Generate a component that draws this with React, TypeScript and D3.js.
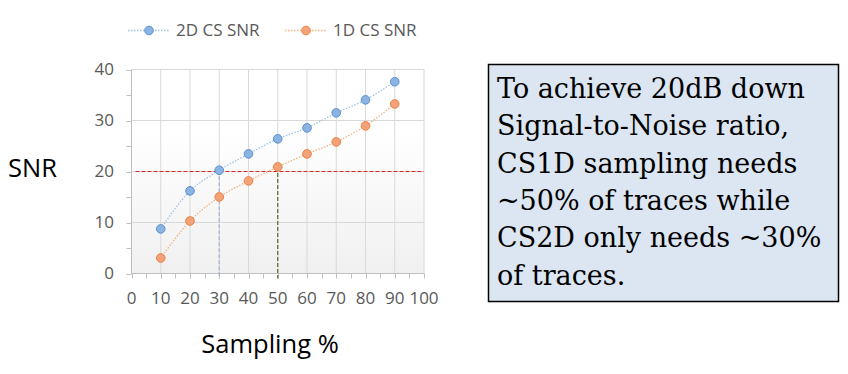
import React from "react";
import * as d3 from "d3";

const sampling = [10, 20, 30, 40, 50, 60, 70, 80, 90];
const snr2D = [8.75, 16.2, 20.25, 23.45, 26.4, 28.55, 31.5, 34.05, 37.6];
const snr1D = [3.05, 10.3, 15.0, 18.15, 20.9, 23.45, 25.8, 28.95, 33.25];
const xTicks = [0, 10, 20, 30, 40, 50, 60, 70, 80, 90, 100];
const yTicks = [0, 10, 20, 30, 40];
const seriesNames = ["2D CS SNR", "1D CS SNR"];
const threshold = 20;
const noteLines = [
  "To achieve 20dB down",
  "Signal-to-Noise ratio,",
  "CS1D sampling needs",
  "~50% of traces while",
  "CS2D only needs ~30%",
  "of traces.",
];

const W = 848;
const H = 374;
const plot = { left: 131.5, right: 424, top: 69.5, bottom: 273.5 };

export default function App() {
  const x = d3.scaleLinear().domain([0, 100]).range([plot.left, plot.right]);
  const y = d3.scaleLinear().domain([0, 40]).range([plot.bottom, plot.top]);
  const line = d3
    .line<number>()
    .x((_, i) => x(sampling[i]))
    .y((d) => y(d))
    .curve(d3.curveCatmullRom.alpha(0.5));

  const series = [
    { name: seriesNames[0], data: snr2D, line: "#9dc3e6", fill: "#8cb4e2", stroke: "#5b8fd0" },
    { name: seriesNames[1], data: snr1D, line: "#f4b183", fill: "#f4a27a", stroke: "#e9803f" },
  ];
  const minorX = d3.range(0, 101, 5);
  const minorY = d3.range(0, 41, 5);
  const font = "'Open Sans', 'Noto Sans', sans-serif";

  return (
    <svg width={W} height={H} style={{ position: "absolute", left: 0, top: 0 }}>
      <defs>
        <linearGradient id="bg" x1="0" y1="0" x2="0" y2="1">
          <stop offset="0" stopColor="#ffffff" />
          <stop offset="0.3" stopColor="#ffffff" />
          <stop offset="1" stopColor="#f0f0f0" />
        </linearGradient>
      </defs>
      <rect width={W} height={H} fill="#fff" />
      <rect x={plot.left} y={plot.top} width={plot.right - plot.left} height={plot.bottom - plot.top} fill="url(#bg)" />
      {/* grid */}
      {yTicks.slice(1).map((t) => (
        <line key={"gy" + t} x1={plot.left} x2={plot.right} y1={y(t)} y2={y(t)} stroke="#d9d9d9" strokeWidth={1} />
      ))}
      {xTicks.slice(1).map((t) => (
        <line key={"gx" + t} x1={x(t)} x2={x(t)} y1={plot.top} y2={plot.bottom} stroke="#d9d9d9" strokeWidth={1} />
      ))}
      {/* axes */}
      <line x1={plot.left} x2={plot.left} y1={plot.top} y2={plot.bottom} stroke="#bfbfbf" />
      <line x1={plot.left} x2={plot.right} y1={plot.bottom} y2={plot.bottom} stroke="#bfbfbf" />
      {minorY.map((t) => (
        <line key={"ty" + t} x1={plot.left - 5} x2={plot.left} y1={Math.round(y(t)) + 0.5} y2={Math.round(y(t)) + 0.5} stroke="#bfbfbf" />
      ))}
      {minorX.map((t) => (
        <line key={"tx" + t} x1={Math.round(x(t)) + 0.5} x2={Math.round(x(t)) + 0.5} y1={plot.bottom} y2={plot.bottom + 5} stroke="#bfbfbf" />
      ))}
      {yTicks.map((t) => (
        <text key={"ly" + t} x={114} y={y(t)} dy="0.35em" textAnchor="end" fontFamily={font} fontSize={17} fill="#595959">
          {t}
        </text>
      ))}
      {xTicks.map((t) => (
        <text key={"lx" + t} x={x(t)} y={298} dy="0.35em" textAnchor="middle" fontFamily={font} fontSize={17} fill="#595959">
          {t}
        </text>
      ))}
      {/* reference lines */}
      <line x1={plot.left + 4} x2={plot.right} y1={y(threshold)} y2={y(threshold)} stroke="#d42a2a" strokeWidth={1} strokeDasharray="4,2" />
      <line x1={x(30)} x2={x(30)} y1={y(snr2D[2])} y2={plot.bottom + 5} stroke="#9fb4d6" strokeWidth={1.2} strokeDasharray="4,2" />
      <line x1={x(50)} x2={x(50)} y1={y(snr1D[4])} y2={plot.bottom + 5} stroke="#4f6a2c" strokeWidth={1.2} strokeDasharray="4,2" />
      {/* series */}
      {series.map((s) => (
        <g key={s.name}>
          <path d={line(s.data) || ""} fill="none" stroke={s.line} strokeWidth={1.3} strokeDasharray="1.5,1.5" />
          {s.data.map((v, i) => (
            <circle key={i} cx={x(sampling[i])} cy={y(v)} r={4.3} fill={s.fill} stroke={s.stroke} strokeWidth={1} />
          ))}
        </g>
      ))}
      {/* legend */}
      {series.map((s, i) => {
        const lx = i === 0 ? 128 : 285;
        return (
          <g key={"lg" + i}>
            <line x1={lx} x2={lx + 42} y1={30.5} y2={30.5} stroke={s.line} strokeWidth={1.3} strokeDasharray="1.5,1.5" />
            <circle cx={lx + 21} cy={30.5} r={4.3} fill={s.fill} stroke={s.stroke} />
            <text x={lx + 48} y={30.5} dy="0.35em" fontFamily={font} fontSize={17} fill="#595959">
              {s.name}
            </text>
          </g>
        );
      })}
      {/* axis titles */}
      <text x={8} y={168} dy="0.35em" fontFamily={font} fontSize={25.5} fill="#000">
        SNR
      </text>
      <text x={270} y={344} dy="0.35em" textAnchor="middle" fontFamily={font} fontSize={25.5} fill="#000">
        Sampling %
      </text>
      {/* note box */}
      <rect x={488.5} y={64.5} width={350} height={237} fill="#dce6f2" stroke="#000" strokeWidth={1.5} />
      {noteLines.map((t, i) => (
        <text key={i} x={497} y={98 + i * 37.3} fontFamily="'DejaVu Serif', serif" fontSize={27} fill="#000">
          {t}
        </text>
      ))}
    </svg>
  );
}
